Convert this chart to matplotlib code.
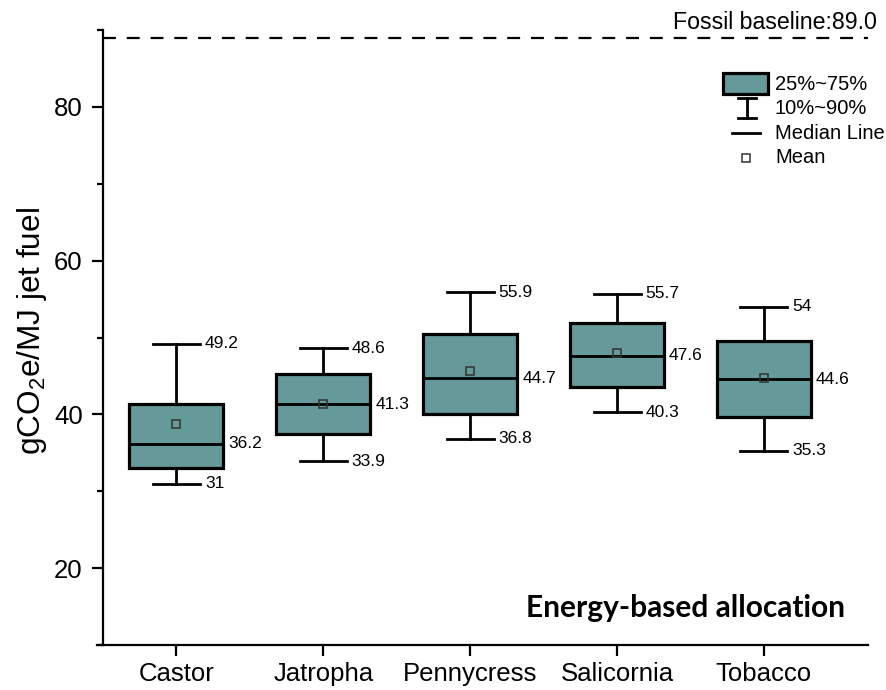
import matplotlib
matplotlib.use("Agg")
import matplotlib.pyplot as plt
from matplotlib.ticker import MultipleLocator
from matplotlib.patches import Rectangle
from matplotlib.lines import Line2D

plt.rcParams['font.family'] = ['Liberation Sans', 'DejaVu Sans']
plt.rcParams['mathtext.default'] = 'regular'

categories = ['Castor', 'Jatropha', 'Pennycress', 'Salicornia', 'Tobacco']
p10 = [31, 33.9, 36.8, 40.3, 35.3]
q1 = [33.0, 37.4, 40.0, 43.6, 39.6]
median = [36.2, 41.3, 44.7, 47.6, 44.6]
q3 = [41.3, 45.2, 50.4, 51.9, 49.5]
p90 = [49.2, 48.6, 55.9, 55.7, 54]
mean = [38.8, 41.4, 45.7, 48.0, 44.7]
fossil_baseline = 89.0

box_color = '#669999'

fig = plt.figure(figsize=(8.86, 6.90), dpi=100)
ax = fig.add_axes([103/886, 1-645/690, 765/886, 615/690])

stats = []
for i, c in enumerate(categories):
    stats.append(dict(label=c, whislo=p10[i], q1=q1[i], med=median[i],
                      q3=q3[i], whishi=p90[i], mean=mean[i], fliers=[]))

positions = list(range(1, len(categories) + 1))
bw = 0.64
cw = 0.32
LW = 2.0
ax.bxp(stats, positions=positions, widths=bw, capwidths=cw, showmeans=True,
       patch_artist=True, showfliers=False,
       boxprops=dict(facecolor=box_color, edgecolor='black', linewidth=2.3),
       medianprops=dict(color='black', linewidth=LW),
       whiskerprops=dict(color='black', linewidth=LW),
       capprops=dict(color='black', linewidth=LW),
       meanprops=dict(marker='s', markerfacecolor='none', markeredgecolor='#333333',
                      markersize=5.5, markeredgewidth=1.1))

lab_fs = 12.5
for i, x in enumerate(positions):
    ax.annotate(f'{p90[i]:g}', (x + cw/2, p90[i]), xytext=(3.6, 0),
                textcoords='offset points', ha='left', va='center', fontsize=lab_fs)
    ax.annotate(f'{p10[i]:g}', (x + cw/2, p10[i]), xytext=(3.6, 0),
                textcoords='offset points', ha='left', va='center', fontsize=lab_fs)
    ax.annotate(f'{median[i]:g}', (x + bw/2, median[i]), xytext=(3.6, 0),
                textcoords='offset points', ha='left', va='center', fontsize=lab_fs)

# fossil baseline
ax.axhline(fossil_baseline, color='black', lw=1.6, ls=(0, (5.8, 4.9)))
ax.annotate(f'Fossil baseline:{fossil_baseline:.1f}', (1.0118, fossil_baseline),
            xycoords=('axes fraction', 'data'), xytext=(0, 6.5),
            textcoords='offset points', ha='right', va='baseline', fontsize=16.7,
            annotation_clip=False)

ax.set_xlim(0.5, 5.709)
ax.set_ylim(10, 90)
ax.set_xticks(positions)
ax.set_xticklabels(categories)
ax.yaxis.set_major_locator(MultipleLocator(20))
ax.yaxis.set_minor_locator(MultipleLocator(10))
ax.set_yticks([20, 40, 60, 80])

for s in ['top', 'right']:
    ax.spines[s].set_visible(False)
for s in ['left', 'bottom']:
    ax.spines[s].set_linewidth(1.6)
ax.spines['bottom'].set_bounds(0.5 - 6/146.75, 5.709)

ax.tick_params(axis='both', which='major', direction='out', length=8, width=1.6,
               labelsize=18.5)
ax.tick_params(axis='y', which='minor', direction='out', length=4, width=1.6)
ax.tick_params(axis='y', which='major', pad=6.5)
ax.tick_params(axis='x', which='major', pad=4)

fig.text(32/886, 1-331.5/690, 'gCO$_2$e/MJ jet fuel', rotation=90,
         ha='center', va='center', fontsize=22.7)

ax.text(0.97, 0.0455, 'Energy-based allocation', transform=ax.transAxes,
        ha='right', va='baseline', fontsize=21.5, fontweight='bold',
        family=['Lato', 'DejaVu Sans'])

# custom legend
tr = ax.transAxes
ax.add_patch(Rectangle((0.8105, 0.896), 0.8693-0.8105, 0.9306-0.896, transform=tr,
                       facecolor=box_color, edgecolor='black', lw=2.3, clip_on=False))
ax.add_line(Line2D([0.8414, 0.8414], [0.857, 0.889], transform=tr, color='black', lw=LW))
ax.add_line(Line2D([0.830, 0.853], [0.889, 0.889], transform=tr, color='black', lw=LW))
ax.add_line(Line2D([0.830, 0.853], [0.857, 0.857], transform=tr, color='black', lw=LW))
ax.add_line(Line2D([0.822, 0.859], [0.8325, 0.8325], transform=tr, color='black', lw=LW))
ax.add_line(Line2D([0.840], [0.792], transform=tr, marker='s', markerfacecolor='none',
                   markeredgecolor='#333333', markersize=5.5, markeredgewidth=1.1, ls='none'))
leg_texts = ['25%~75%', '10%~90%', 'Median Line', 'Mean']
leg_y = [0.912, 0.873, 0.8325, 0.792]
for t, yy in zip(leg_texts, leg_y):
    ax.text(0.8784, yy, t, transform=tr, ha='left', va='center', fontsize=14.5)

fig.savefig('out.png', dpi=100)
